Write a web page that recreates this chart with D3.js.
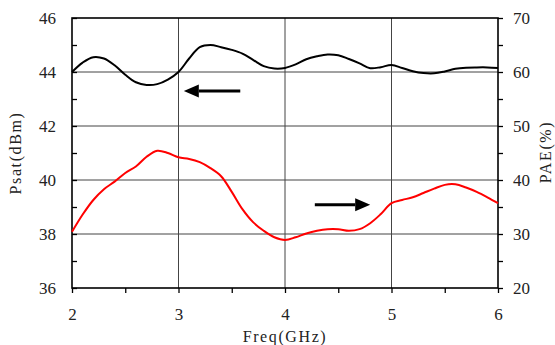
<!DOCTYPE html>
<html>
<head>
<meta charset="utf-8">
<title>Psat / PAE vs Freq</title>
<script src="https://d3js.org/d3.v7.min.js"></script>
<style>
  body { margin: 0; background: #fff; }
  svg text { font-family: "Liberation Serif", "DejaVu Serif", serif; fill: #222; }
</style>
</head>
<body>
<svg id="chart" width="555" height="345"></svg>
<script>
// data
var freq = [2.0,2.1,2.2,2.3,2.4,2.5,2.6,2.7,2.8,2.9,3.0,3.1,3.2,3.3,3.4,3.5,3.6,3.7,3.8,3.9,
            4.0,4.1,4.2,4.3,4.4,4.5,4.6,4.7,4.8,4.9,5.0,5.1,5.2,5.3,5.4,5.5,5.6,5.7,5.8,5.9,6.0];
var psat = [44.0,44.35,44.55,44.5,44.25,43.9,43.62,43.52,43.55,43.72,44.0,44.5,44.92,45.0,44.92,44.82,44.68,44.45,44.22,44.13,
            44.15,44.28,44.47,44.58,44.65,44.62,44.48,44.32,44.14,44.18,44.26,44.15,44.03,43.96,43.95,44.02,44.12,44.16,44.17,44.17,44.15];
var pae  = [30.4,33.6,36.3,38.3,39.7,41.3,42.5,44.3,45.4,45.0,44.2,43.9,43.3,42.2,40.7,37.8,34.6,32.2,30.6,29.4,
            28.9,29.4,30.1,30.6,30.9,30.9,30.6,30.9,32.0,33.7,35.7,36.3,36.8,37.6,38.4,39.1,39.2,38.6,37.8,36.8,35.7];
var xTicks = [2,3,4,5,6];
var leftTicks = [36,38,40,42,44,46];
var rightTicks = [20,30,40,50,60,70];

var svg = d3.select('#chart');
// plot box (pixels)
var pL = 72, pR = 498, pT = 18, pB = 288;

var x = d3.scaleLinear().domain([2,6]).range([pL,pR]);
var yL = d3.scaleLinear().domain([36,46]).range([pB,pT]);
var yR = d3.scaleLinear().domain([20,70]).range([pB,pT]);

// grid
svg.append('g').selectAll('line').data([38,40,42,44]).join('line')
  .attr('x1', pL).attr('x2', pR)
  .attr('y1', function(d){ return yL(d); }).attr('y2', function(d){ return yL(d); })
  .attr('stroke', '#444').attr('stroke-width', 1);
svg.append('g').selectAll('line').data([3,4,5]).join('line')
  .attr('y1', pT).attr('y2', pB)
  .attr('x1', function(d){ return x(d); }).attr('x2', function(d){ return x(d); })
  .attr('stroke', '#444').attr('stroke-width', 1);

// axes
var gx = svg.append('g').attr('transform', 'translate(0,' + pB + ')')
  .call(d3.axisBottom(x).tickValues(d3.range(2, 6.01, 0.5)).tickSize(5)
    .tickFormat(function(d){ return xTicks.indexOf(d) >= 0 ? d : ''; }));
var gl = svg.append('g').attr('transform', 'translate(' + pL + ',0)')
  .call(d3.axisLeft(yL).tickValues(d3.range(36, 46.01, 1)).tickSize(-5)
    .tickFormat(function(d){ return leftTicks.indexOf(d) >= 0 ? d : ''; }));
var gr = svg.append('g').attr('transform', 'translate(' + pR + ',0)')
  .call(d3.axisRight(yR).tickValues(d3.range(20, 70.01, 5)).tickSize(5)
    .tickFormat(function(d){ return rightTicks.indexOf(d) >= 0 ? d : ''; }));

[gx, gl, gr].forEach(function(g) {
  g.select('.domain').remove();
  g.selectAll('line').attr('stroke', '#000').attr('stroke-width', 1.3);
  g.selectAll('text').attr('font-size', 17).attr('font-family', '"Liberation Serif", serif').attr('fill', '#222');
});
gx.selectAll('text').attr('dy', '1.4em');
gl.selectAll('text').attr('x', -16).attr('dy', '0.35em');
gr.selectAll('text').attr('x', 15).attr('dy', '0.35em');

// frame
svg.append('rect').attr('x', pL).attr('y', pT)
  .attr('width', pR - pL).attr('height', pB - pT)
  .attr('fill', 'none').attr('stroke', '#000').attr('stroke-width', 1.6);

// curves
var lineL = d3.line().curve(d3.curveCatmullRom)
  .x(function(d, i){ return x(freq[i]); }).y(function(d){ return yL(d); });
var lineR = d3.line().curve(d3.curveCatmullRom)
  .x(function(d, i){ return x(freq[i]); }).y(function(d){ return yR(d); });

svg.append('path').datum(psat).attr('d', lineL)
  .attr('fill', 'none').attr('stroke', '#000').attr('stroke-width', 2);
svg.append('path').datum(pae).attr('d', lineR)
  .attr('fill', 'none').attr('stroke', '#f00').attr('stroke-width', 2);

// arrows
function arrow(x0, x1, yv) {
  var dir = x1 > x0 ? 1 : -1;
  var head = 15;
  svg.append('line').attr('x1', x0).attr('x2', x1 - dir * head).attr('y1', yv).attr('y2', yv)
    .attr('stroke', '#000').attr('stroke-width', 3);
  svg.append('path')
    .attr('d', 'M' + x1 + ',' + yv + 'L' + (x1 - dir * head) + ',' + (yv - 6.5) + 'L' + (x1 - dir * head) + ',' + (yv + 6.5) + 'Z')
    .attr('fill', '#000');
}
arrow(x(3.58), x(3.05), yL(43.3));
arrow(x(4.28), x(4.8), yR(35.4));

// axis titles
svg.append('text').attr('x', x(4)).attr('y', 342).attr('text-anchor', 'middle')
  .attr('font-size', 16).attr('letter-spacing', 1.6).text('Freq(GHz)');
svg.append('text').attr('transform', 'translate(21,153) rotate(-90)').attr('text-anchor', 'middle')
  .attr('font-size', 16).attr('letter-spacing', 1.6).text('Psat(dBm)');
svg.append('text').attr('transform', 'translate(551,152) rotate(-90)').attr('text-anchor', 'middle')
  .attr('font-size', 16).attr('letter-spacing', 1.6).text('PAE(%)');
</script>
</body>
</html>
